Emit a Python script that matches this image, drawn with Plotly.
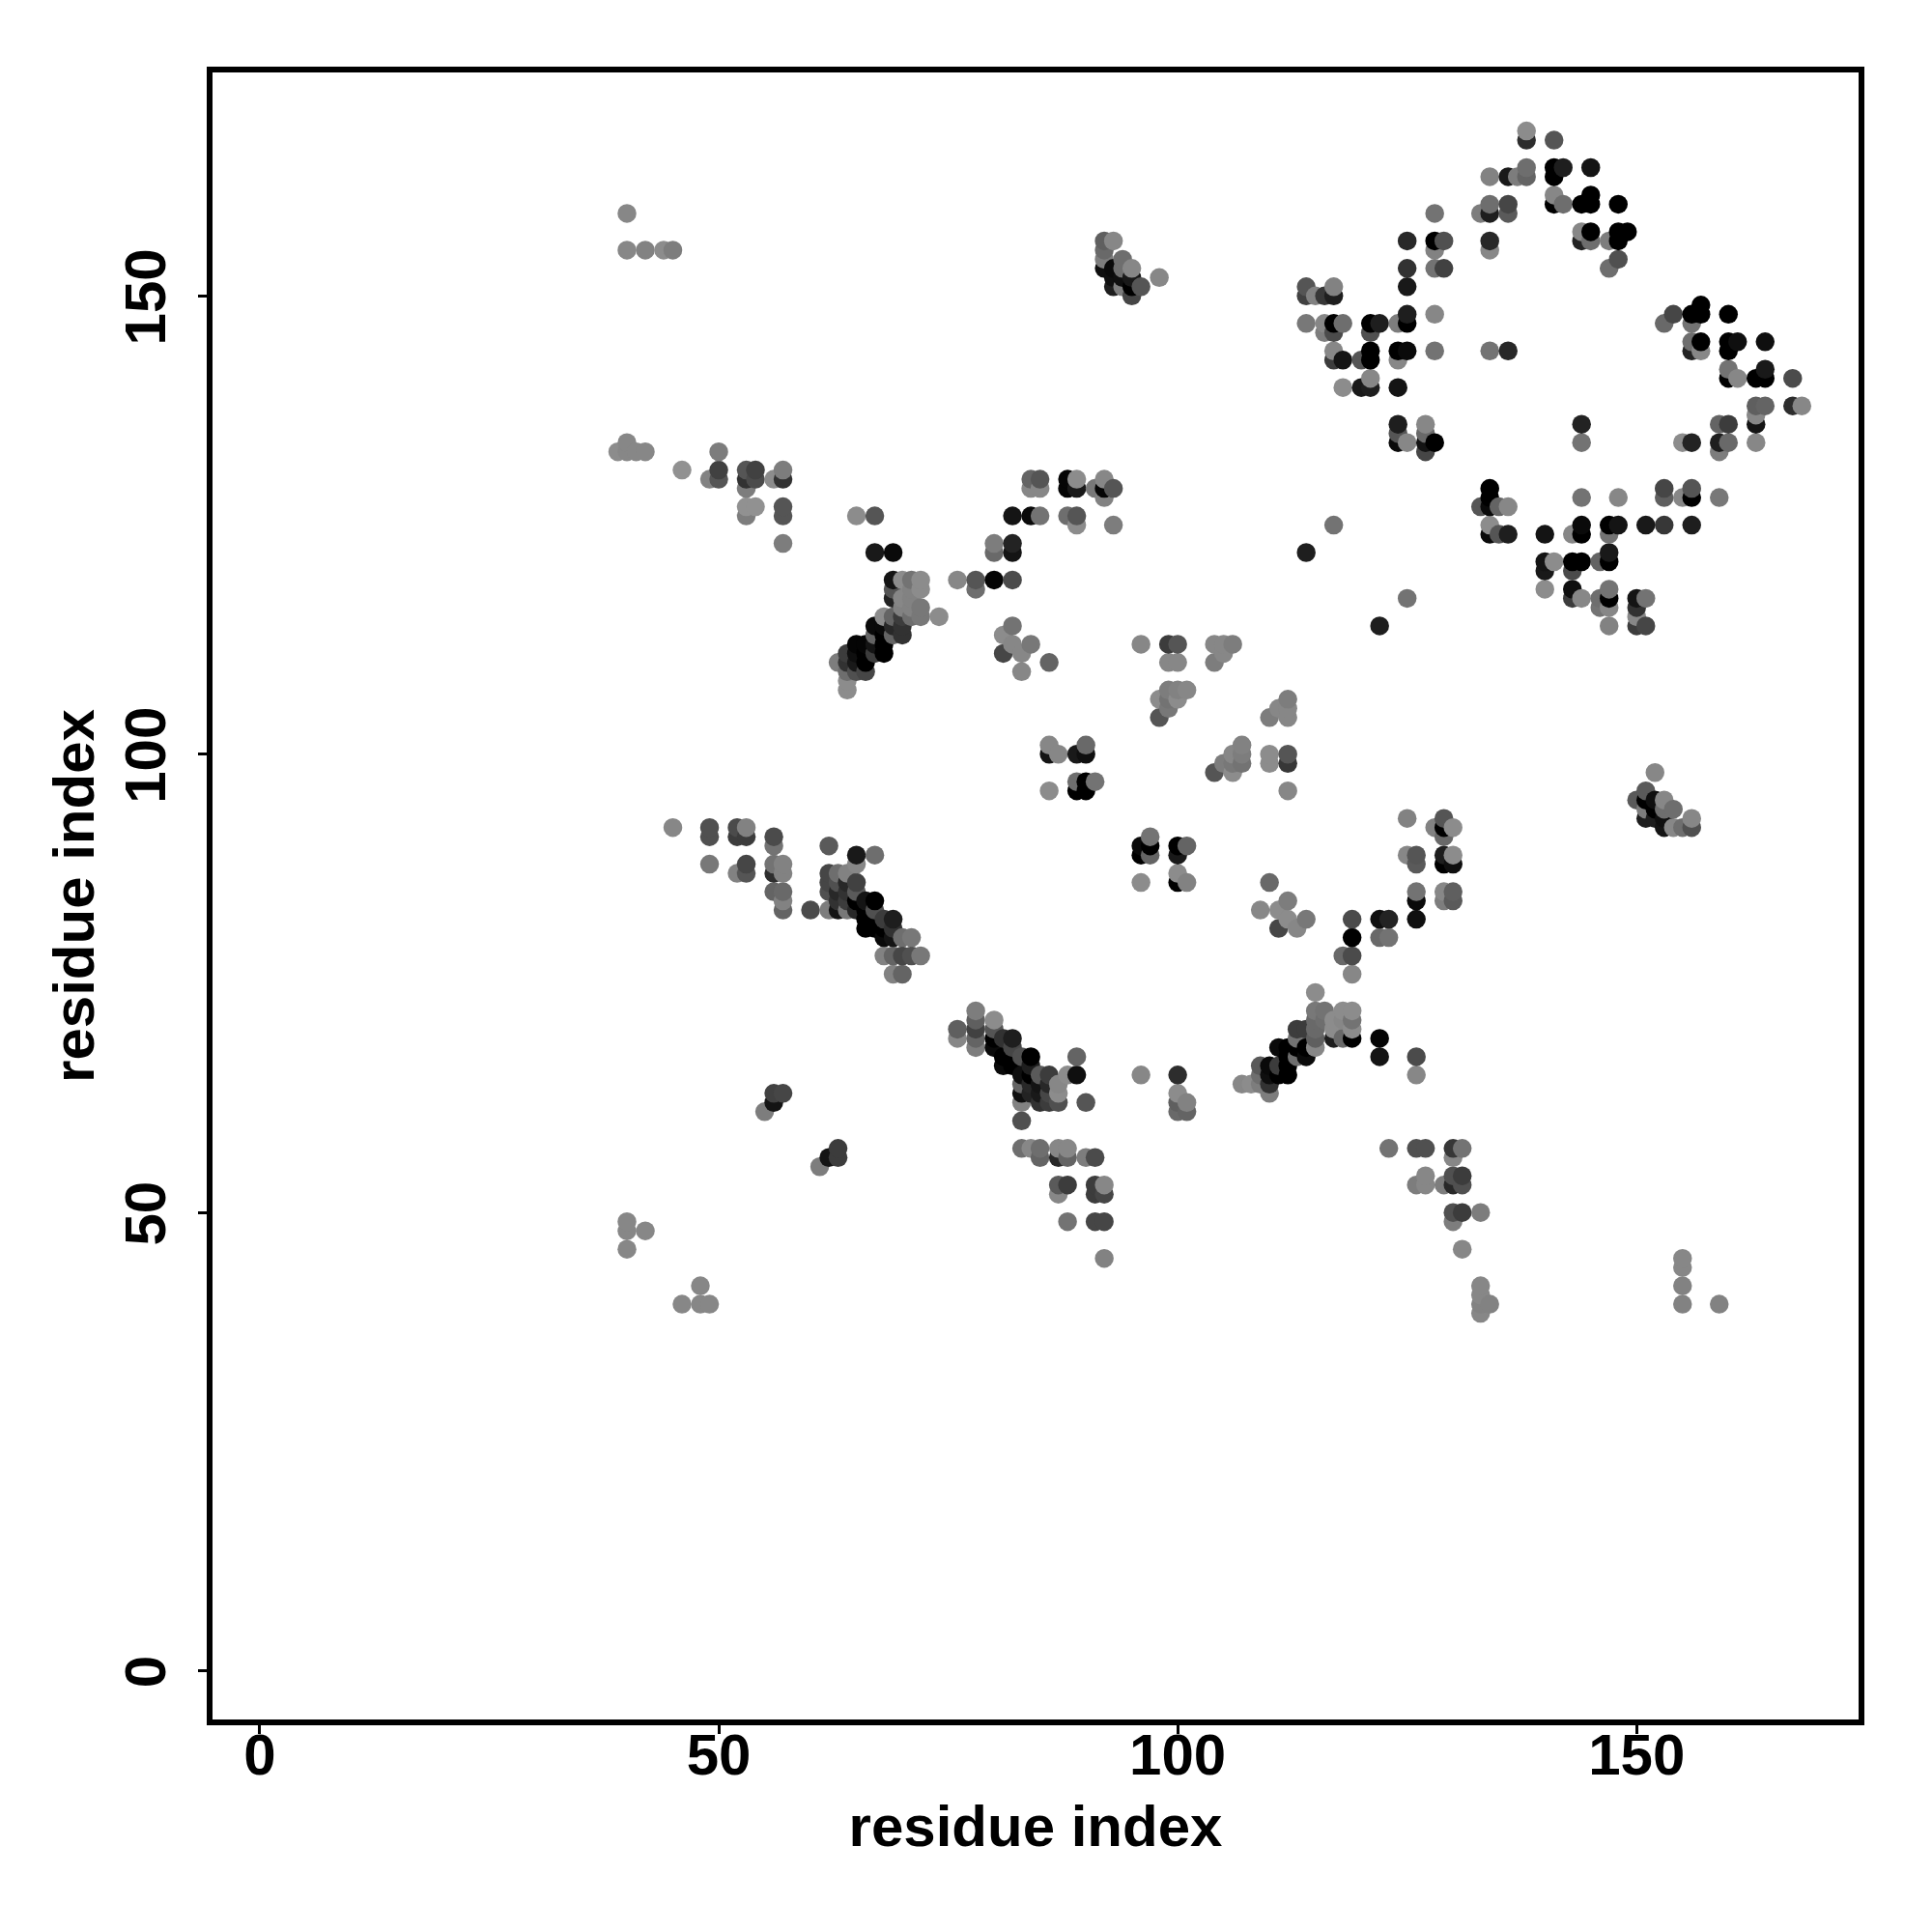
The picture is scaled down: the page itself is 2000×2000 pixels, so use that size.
import plotly.graph_objects as go

tick_values = [0, 50, 100, 150]
axis_title = "residue index"

# (residue i, residue j, grey level of the point)
far_upper_left = [(40,159,135),(40,155,135),(42,155,130),(44,155,140),(45,155,125),
 (39,133,140),(40,133,135),(41,133,135),(42,133,135),(40,134,135),(50,133,125),
 (46,131,145),(50,131,65),(53,131,85),(54,131,65),(57,131,125),
 (49,130,130),(50,130,85),(53,130,50),(54,130,75),(56,130,140),(57,130,50),(53,129,125),
 (53,127,145),(54,127,145),(57,127,85),(53,126,125),(57,126,85),(57,123,125)]
helix_upper = [(65,126,140),(67,126,85),(67,122,25),(69,122,10),
 (69,119,20),(70,119,140),(71,119,115),(72,119,140),(69,118,85),(71,118,130),(72,118,140),
 (69,117,35),(70,117,135),(71,117,130),(70,116,130),(71,116,130),(72,116,120),
 (68,115,140),(69,115,100),(70,115,60),(71,115,110),(72,115,120),(74,115,140),
 (67,114,10),(68,114,10),(69,114,40),(70,114,50),(67,113,100),(68,113,0),(69,113,100),(70,113,50),
 (65,112,5),(66,112,5),(67,112,20),(68,112,0),(64,111,60),(65,111,15),(66,111,0),(67,111,60),(68,111,0),
 (63,110,125),(64,110,50),(65,110,25),(66,110,0),(64,109,110),(65,109,80),(66,109,70),(64,108,140),(64,107,140)]
sheet_upper = [(76,119,135),(78,119,85),(80,119,5),(82,119,75),(78,118,110),
 (80,123,125),(82,123,35),(80,122,105),(82,122,20),
 (82,126,20),(84,126,10),(85,126,115),(88,126,110),(89,126,85),(89,125,140),(93,125,125),
 (84,130,100),(85,130,85),(84,129,135),(85,129,135),(88,130,5),(89,130,140),(88,129,5),(89,129,25),
 (91,129,120),(92,130,135),(92,129,5),(92,128,130),(93,129,85)]
mid_block = [(82,114,115),(81,113,140),(82,112,135),(84,112,120),(81,111,70),(83,111,135),(86,110,100),(83,109,135),
 (96,112,135),(99,112,60),(100,112,85),(99,110,135),(100,110,135),(104,112,135),(105,112,135),(106,112,125),
 (105,111,135),(104,110,125),(99,107,125),(100,107,130),(101,107,135),(98,106,140),(99,106,115),(100,106,140),
 (99,105,120),(98,104,85),(112,106,125),(111,105,135),(112,105,135),(110,104,125),(112,104,135),
 (86,101,135),(90,101,105),(86,100,20),(87,100,135),(89,100,25),(90,100,15),(86,96,140),(89,97,110),(90,97,0),
 (91,97,115),(89,96,0),(90,96,0),(107,101,130),(106,100,135),(107,100,125),(105,99,125),(106,99,120),(107,99,115),
 (104,98,85),(106,98,140),(110,100,140),(110,99,140),(112,100,85),(112,99,55),(112,96,135),
 (97,91,115),(96,90,10),(97,90,0),(96,89,0),(97,89,100),(100,90,0),(101,90,100),(100,89,25),(96,86,140),(100,87,140),
 (100,86,0),(101,86,130),(110,86,105),(112,84,125),(109,83,135),(111,83,140),(112,82,140),(114,82,120),(111,81,70),(113,81,135)]
right_mid = [(119,82,75),(119,80,0),(118,78,105),(119,78,75),(119,76,135),(125,93,130),(129,93,85),(128,92,130),(129,92,0),
 (130,92,140),(129,91,105),(125,89,135),(126,89,85),(129,89,30),(130,89,140),(126,88,90),(129,88,0),(130,88,15),
 (126,85,115),(129,85,135),(130,85,95),(126,84,10),(129,84,125),(130,84,90),(122,82,15),(123,82,35),(126,82,15),
 (122,80,105),(123,80,115)]
cluster_low_right = [(115,74,140),(115,72,120),(116,72,115),(118,72,140),(119,72,140),(113,70,60),(114,70,60),(115,71,105),(116,71,110),(117,71,140),
 (118,71,135),(119,71,115),(115,70,105),(117,70,140),(119,70,140),(113,69,115),(115,69,95),(117,69,30),(118,69,105),(119,69,0),
 (122,69,5),(111,68,10),(112,68,0),(113,68,0),(114,68,0),(115,68,135),(112,67,0),(113,67,110),(114,67,10),(122,67,20),(126,67,75),
 (109,66,90),(110,66,10),(111,66,60),(112,66,0),(109,65,110),(110,65,15),(111,65,0),(112,65,0),(126,65,135),
 (107,64,135),(108,64,140),(109,64,125),(110,64,50),(110,63,125)]
cluster_low_left = [(78,72,125),(80,71,140),(78,71,95),(78,70,65),(76,70,95),(76,69,135),(78,69,100),(78,68,125),(80,70,85),
 (81,69,50),(82,69,30),(80,69,0),(80,68,10),(84,67,0),(81,67,0),(82,68,70),(83,67,80),(81,66,10),(82,66,0),(84,66,30),
 (83,65,15),(84,65,0),(85,65,90),(86,65,60),(89,65,15),(88,65,140),(89,67,100),(83,64,100),(84,64,40),(85,64,20),(86,64,40),(87,64,135),
 (83,63,15),(84,63,35),(85,63,25),(86,63,70),(87,63,140),(83,62,130),(85,62,50),(86,62,60),(87,62,80),(90,62,85),(83,60,80),
 (83,57,110),(84,57,135),(85,57,110),(87,57,135),(88,57,135),(85,56,100),(87,56,40),(88,56,100),(90,56,125),(91,56,75),
 (87,53,90),(88,53,60),(91,53,60),(92,53,135),(87,52,135),(91,52,60),(92,52,70),(88,49,115),(91,49,70),(92,49,70),(92,45,130),
 (96,65,135),(100,65,45),(100,63,140),(100,62,95),(101,62,130),(100,61,105),(101,61,100)]
lower_right = [(123,57,115),(126,57,80),(127,57,80),(130,57,55),(131,57,115),(130,56,135),(127,54,135),(130,54,80),(131,54,60),
 (126,53,125),(127,53,135),(129,53,125),(130,53,40),(131,53,80),(130,50,80),(131,50,60),(133,50,125),(130,49,125),(131,46,135),
 (133,42,135),(133,41,135),(133,40,130),(134,40,130),(133,39,135),(155,45,135),(155,44,135),(155,42,130),(155,40,130),(159,40,130)]
small_right = [(152,98,135),(151,96,90),(150,95,90),(151,95,0),(152,95,15),(153,95,135),(151,94,125),(152,94,0),(153,94,110),(154,94,110),
 (151,93,30),(152,93,30),(153,93,15),(156,93,135),(153,92,20),(154,92,135),(155,92,110),(156,92,80)]
lower_left_far = [(40,49,135),(40,48,135),(42,48,135),(40,46,135),(48,42,135),(46,40,135),(48,40,135),(49,40,135),
 (56,63,65),(57,63,70),(56,62,20),(55,61,125),(63,57,60),(63,56,60),(62,56,20),(61,55,125)]
top_middle = [(92,156,95),(93,156,135),(92,155,105),(92,154,125),(94,154,110),(92,153,15),(93,153,10),(94,153,110),(95,153,135),
 (93,152,15),(94,152,15),(95,152,25),(93,151,30),(94,151,125),(95,151,0),(96,151,85),(95,150,70),(98,152,135)]
top_right_a = [(128,159,115),(125,156,40),(128,156,0),(129,156,80),(128,155,130),(125,153,50),(128,153,115),(129,153,65),
 (125,151,25),(125,148,30),(128,148,135),(125,147,0),(124,147,125),(114,151,85),(117,151,130),(114,150,65),(115,150,130),(116,150,55),(117,150,30),
 (114,147,120),(116,147,135),(117,147,0),(118,147,110),(121,147,0),(122,147,30),(116,146,125),(117,146,75),(121,146,80),
 (117,144,135),(121,144,0),(124,144,0),(125,144,10),(128,144,115),(117,143,60),(118,143,20),(120,143,85),(121,143,0),(124,143,135),
 (121,141,135),(118,140,140),(120,140,25),(121,140,30),(124,140,20),(124,136,30),(127,136,135),(124,135,85),(127,135,105),
 (124,134,10),(125,134,135),(127,134,20),(128,134,0),(127,133,70)]
top_right_b = [(138,168,140),(138,167,45),(141,167,85),(134,163,130),(136,163,25),(137,163,125),(138,164,110),(138,163,100),(141,164,0),(142,164,30),
 (141,163,0),(145,164,20),(134,160,110),(136,160,70),(133,159,125),(134,159,30),(136,159,90),(141,161,135),(145,161,0),(141,160,0),(142,160,110),
 (144,160,0),(145,160,0),(148,160,0),(144,157,135),(145,157,0),(148,157,0),(149,157,0),(144,156,35),(145,156,110),(147,156,125),(148,156,0),
 (148,154,80),(147,153,110),(134,156,40),(134,155,135),(157,149,0),(154,148,70),(156,148,0),(157,148,0),(160,148,0),(153,147,105),(156,147,115),
 (156,145,110),(157,145,0),(160,145,0),(161,145,15),(164,145,15),(156,144,35),(157,144,135),(160,144,0),(160,142,115),(164,142,25),(160,141,0),
 (161,141,135),(163,141,0),(164,141,0),(167,141,75),(163,138,95),(164,138,100),(167,138,45),(168,138,135),(163,137,135),(163,136,20),(159,136,100),(160,136,60),
 (144,136,35),(144,134,115),(155,134,140),(156,134,35),(159,134,30),(160,134,105),(159,133,125),(163,134,135),(134,144,115),(136,144,40)]
right_block = [(134,129,0),(134,128,0),(144,128,115),(148,128,135),(153,129,70),(153,128,95),(156,129,85),(155,128,135),(156,128,0),(159,128,120),
 (133,127,85),(134,127,10),(135,127,100),(136,127,135),(134,125,140),(117,125,115),(144,125,10),(147,125,0),(148,125,20),(151,125,25),(153,125,55),(156,125,30),
 (134,124,10),(135,124,85),(136,124,30),(140,124,20),(143,124,135),(144,124,0),(147,124,115),(114,122,30),(140,121,20),(141,121,140),(143,121,0),
 (144,121,0),(146,121,100),(147,121,0),(147,122,25),(140,120,25),(143,120,75),(140,118,140),(143,118,15),(147,118,115),(125,117,115),(143,117,60),(144,117,135),
 (146,117,110),(147,117,0),(150,117,20),(151,117,115),(146,116,115),(147,116,135),(150,116,50),(150,115,135),(122,114,30),(147,114,130),(150,114,60),(151,114,70)]
lower_helix = [(45,92,135),(49,92,80),(49,91,80),(49,88,120),(52,92,75),(53,92,130),(52,91,60),(53,91,60),(56,91,75),(56,90,115),
 (52,87,130),(53,88,70),(53,87,85),(56,88,115),(57,88,130),(56,87,45),(57,87,130),(56,85,100),(57,85,105),(57,84,130),(57,83,100),(60,83,75),
 (62,90,90),(65,89,25),(67,89,110),(65,88,135),(62,87,70),(63,87,110),(64,87,130),(62,86,70),(63,86,80),(64,86,40),(65,86,65),
 (62,85,80),(63,85,40),(64,85,50),(65,85,90),(66,84,20),(67,84,0),(63,84,50),(64,84,60),(65,84,0),
 (62,83,125),(63,83,20),(64,83,120),(65,83,40),(66,83,0),(67,83,80),(66,82,0),(67,82,0),(68,82,60),(69,82,30),
 (66,81,0),(67,81,0),(68,81,0),(69,81,50),(68,80,10),(69,80,20),(70,80,110),(71,80,120),
 (68,78,130),(69,78,100),(70,78,70),(71,78,80),(72,78,120),(69,76,130),(70,76,100)]

regions = [far_upper_left, helix_upper, sheet_upper, mid_block, right_mid, cluster_low_right, cluster_low_left,
           lower_right, small_right, lower_left_far, top_middle, top_right_a, top_right_b, right_block, lower_helix]

# one point per (i, j); later entries win; drawn in increasing i then j
merged = {}
for region in regions:
    for i, j, g in region:
        merged[(i, j)] = g
order = sorted(merged)
xs = [p[0] for p in order]
ys = [p[1] for p in order]
colours = [f"rgb({merged[p]},{merged[p]},{merged[p]})" for p in order]

FONT = "Liberation Sans"
tick_font = dict(family=FONT, size=60, color="black", weight="bold")
title_font = dict(family=FONT, size=60, color="black", weight="bold")
fig = go.Figure(go.Scatter(x=xs, y=ys, mode="markers",
                           marker=dict(size=19.5, color=colours, line=dict(width=0)),
                           showlegend=False, hoverinfo="skip"))
common = dict(showgrid=False, zeroline=False, showline=True, mirror=True, linecolor="black", linewidth=6,
              ticks="outside", ticklen=9, tickwidth=3, tickcolor="black",
              tickmode="array", tickvals=tick_values, ticktext=[str(v) for v in tick_values],
              tickfont=tick_font)
fig.update_layout(width=2000, height=2000, margin=dict(l=212, r=84, t=67, b=228),
                  paper_bgcolor="white", plot_bgcolor="white",
                  xaxis=dict(range=[-5.15, 174.18], ticklabelstandoff=-30, **common,
                             title=dict(text=axis_title, font=title_font, standoff=22)),
                  yaxis=dict(range=[-5.31, 174.38], tickangle=-90, ticklabelstandoff=10, ticklabelshift=10, **common,
                             title=dict(text=axis_title, font=title_font, standoff=2)))
fig.write_html("out.html")
